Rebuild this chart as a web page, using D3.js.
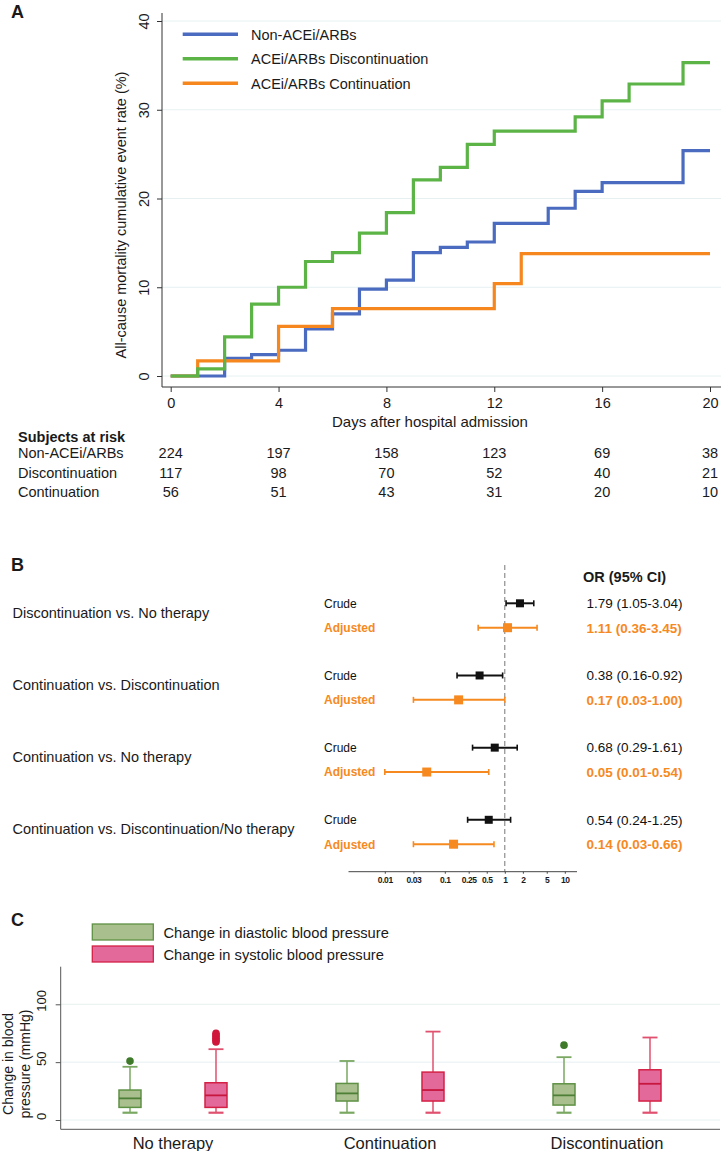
<!DOCTYPE html>
<html><head><meta charset="utf-8">
<script src="https://cdn.jsdelivr.net/npm/d3@7"></script>
<style>body{margin:0;background:#fff}svg{display:block}</style>
</head><body><svg id="c" width="721" height="1151"></svg>
<script>
// ---------- Panel A data ----------
const kmSeries = ["Non-ACEi/ARBs","ACEi/ARBs Discontinuation","ACEi/ARBs Continuation"];
const nonAceiDays = [0,2,3,4,5,6,7,8,9,10,11,12,14,15,16,19,20];
const nonAceiRate = [0,2.0,2.4,2.9,5.3,7.0,9.8,10.8,13.9,14.5,15.1,17.2,18.9,20.8,21.8,25.4,25.4];
const discDays = [0,1,2,3,4,5,6,7,8,9,10,11,12,15,16,17,19,20];
const discRate = [0,0.8,4.4,8.1,10.0,12.9,13.9,16.1,18.4,22.1,23.5,26.1,27.6,29.2,31.0,32.9,35.3,35.3];
const contDays = [0,1,4,6,12,13,20];
const contRate = [0,1.7,5.6,7.6,10.4,13.8,13.8];
const kmXTicks = [0,4,8,12,16,20];
const kmYTicks = [0,10,20,30,40];
const riskDays = [0,4,8,12,16,20];
const riskLabels = ["Non-ACEi/ARBs","Discontinuation","Continuation"];
const riskNon = [224,197,158,123,69,38];
const riskDisc = [117,98,70,52,40,21];
const riskCont = [56,51,43,31,20,10];

// ---------- Panel B data ----------
const comparisons = ["Discontinuation vs. No therapy","Continuation vs. Discontinuation","Continuation vs. No therapy","Continuation vs. Discontinuation/No therapy"];
const crudeOR = [1.79,0.38,0.68,0.54];
const crudeLo = [1.05,0.16,0.29,0.24];
const crudeHi = [3.04,0.92,1.61,1.25];
const adjOR = [1.11,0.17,0.05,0.14];
const adjLo = [0.36,0.03,0.01,0.03];
const adjHi = [3.45,1.00,0.54,0.66];
const orTicks = [0.01,0.03,0.1,0.25,0.5,1,2,5,10];

// ---------- Panel C data ----------
const bpGroups = ["No therapy","Continuation","Discontinuation"];
const bpSeries = ["Change in diastolic blood pressure","Change in systolic blood pressure"];
const diaLow = [6.3,6.3,6.3];
const diaQ1 = [10.9,16.4,12.9];
const diaMed = [18.7,23.0,21.3];
const diaQ3 = [25.9,31.6,31.3];
const diaHigh = [46.0,51.0,54.3];
const diaOut = [[50.9],[],[64.7]];
const sysLow = [6.3,6.3,6.3];
const sysQ1 = [10.9,16.4,16.4];
const sysMed = [21.3,25.9,31.3];
const sysQ3 = [32.2,41.4,43.4];
const sysHigh = [61.2,76.4,71.3];
const sysOut = [[67.5,69,70.5,72,73.5,75],[],[]];
const bpYTicks = [0,50,100];

// ---------- styles ----------
const font = "'Liberation Sans', Arial, Helvetica, sans-serif";
const ink = "#1a1a1a";
const kmColors = ["#4a6bbf","#5cb447","#f6871f"];
const orange = "#f6891f";
const svg = d3.select("#c").attr("font-family", font);
svg.append("rect").attr("width",721).attr("height",1151).attr("fill","#fff");

function label(t,x,y,opt={}){
  const s = svg.append("text").attr("x",x).attr("y",y).text(t)
    .attr("font-size",opt.size||14.5).attr("fill",opt.fill||ink);
  if(opt.bold) s.attr("font-weight","bold");
  if(opt.anchor) s.attr("text-anchor",opt.anchor);
  return s;
}
label("A",11,18,{size:18,bold:true});
label("B",11,571,{size:18,bold:true});
label("C",11,926,{size:18,bold:true});

// ================= Panel A =================
const xA = d3.scaleLinear().domain([0,20]).range([170.7,710]);
const yA = d3.scaleLinear().domain([0,40]).range([376,21]);
const axLeftA = 162, axBotA = 387;

svg.append("g").selectAll("line").data(kmYTicks).join("line")
  .attr("x1",axLeftA).attr("x2",721).attr("y1",d=>yA(d)).attr("y2",d=>yA(d))
  .attr("stroke","#e6f0f1").attr("stroke-width",1);

const gyA = svg.append("g").attr("transform",`translate(${axLeftA},0)`)
  .call(d3.axisLeft(yA).tickValues(kmYTicks).tickSize(5).tickSizeOuter(0));
gyA.attr("font-family",font).attr("font-size",14.5);
gyA.select(".domain").remove();
gyA.selectAll(".tick line").attr("stroke","#333");
gyA.append("line").attr("y1",13).attr("y2",axBotA).attr("stroke","#333");
gyA.selectAll(".tick text").attr("x",null).attr("dy",null).attr("fill",ink)
  .attr("text-anchor","middle").attr("transform","translate(-13,0) rotate(-90)");

const gxA = svg.append("g").attr("transform",`translate(0,${axBotA})`)
  .call(d3.axisBottom(xA).tickValues(kmXTicks).tickSize(5).tickPadding(6).tickSizeOuter(0));
gxA.attr("font-family",font).attr("font-size",14.5);
gxA.select(".domain").remove();
gxA.selectAll(".tick line").attr("stroke","#333");
gxA.selectAll(".tick text").attr("fill",ink);
gxA.append("line").attr("x1",axLeftA).attr("x2",721).attr("stroke","#333");

svg.append("text").attr("transform","translate(125.5,215) rotate(-90)")
  .attr("text-anchor","middle").attr("font-size",14.5).attr("fill",ink)
  .text("All-cause mortality cumulative event rate (%)");
label("Days after hospital admission",430,426.5,{anchor:"middle",size:15});

const kmData = [
  nonAceiDays.map((d,i)=>[d,nonAceiRate[i]]),
  discDays.map((d,i)=>[d,discRate[i]]),
  contDays.map((d,i)=>[d,contRate[i]])
];
const stepLine = d3.line().x(d=>xA(d[0])).y(d=>yA(d[1])).curve(d3.curveStepAfter);
[0,2,1].forEach(i=>{
  svg.append("path").attr("d",stepLine(kmData[i])).attr("fill","none")
    .attr("stroke",kmColors[i]).attr("stroke-width",3.2).attr("stroke-linejoin","miter");
});

// legend
const legY = d3.scalePoint().domain(kmSeries).range([34.3,83.3]);
kmSeries.forEach((s,i)=>{
  svg.append("line").attr("x1",182.7).attr("x2",238).attr("y1",legY(s)).attr("y2",legY(s))
    .attr("stroke",kmColors[i]).attr("stroke-width",3.5);
  label(s,251,legY(s)+5.2,{size:14.5});
});

// risk table
label("Subjects at risk",18,441.8,{bold:true,size:14.5});
const riskRows = [riskNon,riskDisc,riskCont];
const riskY = d3.scalePoint().domain(riskLabels).range([453.3,491.7]);
riskLabels.forEach((r,i)=>{
  label(r,18,riskY(r)+5.1,{size:14.5});
  riskRows[i].forEach((v,j)=>label(String(v),xA(riskDays[j]),riskY(r)+5.1,{size:14.5,anchor:"middle"}));
});

// ================= Panel B =================
const xB = d3.scaleLog().domain([0.01,10]).range([384.8,564.8]);
const rowB = d3.scalePoint().domain(comparisons).range([615.5,832]);
const axBotB = 871.7;
label("OR (95% CI)",583,581.5,{bold:true,size:14.5});

svg.append("line").attr("x1",xB(1)).attr("x2",xB(1)).attr("y1",565).attr("y2",axBotB)
  .attr("stroke","#777").attr("stroke-width",1).attr("stroke-dasharray","5,3");

const gxB = svg.append("g").attr("transform",`translate(0,${axBotB})`)
  .call(d3.axisBottom(xB).tickValues(orTicks).tickFormat(d=>String(d)).tickSize(2).tickPadding(3));
gxB.attr("font-family",font).attr("font-size",8.5);
gxB.select(".domain").remove();
gxB.selectAll(".tick line").attr("stroke","#444");
gxB.selectAll(".tick text").attr("fill",ink).attr("font-weight","bold").attr("letter-spacing","-0.4");
gxB.append("line").attr("x1",348.5).attr("x2",577).attr("stroke","#444");

comparisons.forEach((c,i)=>{
  const yc = rowB(c);
  label(c,12.5,yc-3+5,{size:14.5});
  const rows = [
    {y:yc-12.2, or:crudeOR[i], lo:crudeLo[i], hi:crudeHi[i], col:"#111", name:"Crude", bold:false, sq:8},
    {y:yc+12.2, or:adjOR[i], lo:adjLo[i], hi:adjHi[i], col:orange, name:"Adjusted", bold:true, sq:9}
  ];
  rows.forEach(r=>{
    label(r.name,324,r.y+4.3,{size:12,bold:r.bold,fill:r.col});
    svg.append("line").attr("x1",xB(r.lo)).attr("x2",xB(r.hi)).attr("y1",r.y).attr("y2",r.y)
      .attr("stroke",r.col).attr("stroke-width",2);
    [r.lo,r.hi].forEach(v=>svg.append("line").attr("x1",xB(v)).attr("x2",xB(v))
      .attr("y1",r.y-3).attr("y2",r.y+3).attr("stroke",r.col).attr("stroke-width",1.6));
    svg.append("rect").attr("x",xB(r.or)-r.sq/2).attr("y",r.y-r.sq/2)
      .attr("width",r.sq).attr("height",r.sq).attr("fill",r.col);
    const f = d3.format(".2f");
    label(`${f(r.or)} (${f(r.lo)}-${f(r.hi)})`,586.5,r.y+4.8,{size:13.5,bold:r.bold,fill:r.col});
  });
});

// ================= Panel C =================
const yC = d3.scaleLinear().domain([0,100]).range([1120,1004.3]);
const xC = d3.scalePoint().domain(bpGroups).range([173,607]);
const offC = d3.scalePoint().domain(bpSeries).range([-43,43]);
const axLeftC = 60.7, axBotC = 1129.3;

svg.append("g").selectAll("line").data(bpYTicks).join("line")
  .attr("x1",axLeftC).attr("x2",720).attr("y1",d=>yC(d)).attr("y2",d=>yC(d))
  .attr("stroke","#e6f0f1");

const gyC = svg.append("g").attr("transform",`translate(${axLeftC},0)`)
  .call(d3.axisLeft(yC).tickValues(bpYTicks).tickSize(5).tickSizeOuter(0));
gyC.attr("font-family",font).attr("font-size",13);
gyC.select(".domain").remove();
gyC.selectAll(".tick line").attr("stroke","#555");
gyC.append("line").attr("y1",966.7).attr("y2",axBotC).attr("stroke","#555");
gyC.selectAll(".tick text").attr("x",null).attr("dy",null).attr("fill",ink)
  .attr("text-anchor","middle").attr("transform","translate(-15,-4) rotate(-90)");

svg.append("line").attr("x1",axLeftC).attr("x2",720).attr("y1",axBotC).attr("y2",axBotC).attr("stroke","#555");
bpGroups.forEach(g=>label(g,xC(g),1149,{size:16.5,anchor:"middle"}));

const yTitle = svg.append("g").attr("transform","translate(0,1064)");
yTitle.append("text").attr("transform","translate(12.5,0) rotate(-90)").attr("text-anchor","middle")
  .attr("font-size",14).attr("fill",ink).text("Change in blood");
yTitle.append("text").attr("transform","translate(29.5,0) rotate(-90)").attr("text-anchor","middle")
  .attr("font-size",14).attr("fill",ink).text("pressure (mmHg)");

const bpStyle = [
  {fill:"#a9c08e", stroke:"#5f9145", med:"#4d7f37", whisk:"#7aa862", out:"#3e7a2a"},
  {fill:"#e3699b", stroke:"#d42045", med:"#c8173f", whisk:"#e0506f", out:"#d0163b"}
];
const bpStats = [
  {low:diaLow,q1:diaQ1,med:diaMed,q3:diaQ3,high:diaHigh,out:diaOut},
  {low:sysLow,q1:sysQ1,med:sysMed,q3:sysQ3,high:sysHigh,out:sysOut}
];
const bw = 22, cap = 15;
bpSeries.forEach((s,si)=>{
  const st = bpStyle[si], d = bpStats[si];
  bpGroups.forEach((g,gi)=>{
    const cx = xC(g)+offC(s);
    const gg = svg.append("g");
    gg.append("line").attr("x1",cx).attr("x2",cx).attr("y1",yC(d.q3[gi])).attr("y2",yC(d.high[gi])).attr("stroke",st.whisk).attr("stroke-width",1.5);
    gg.append("line").attr("x1",cx).attr("x2",cx).attr("y1",yC(d.q1[gi])).attr("y2",yC(d.low[gi])).attr("stroke",st.whisk).attr("stroke-width",1.5);
    gg.append("line").attr("x1",cx-cap/2).attr("x2",cx+cap/2).attr("y1",yC(d.high[gi])).attr("y2",yC(d.high[gi])).attr("stroke",st.whisk).attr("stroke-width",1.8);
    gg.append("line").attr("x1",cx-cap/2).attr("x2",cx+cap/2).attr("y1",yC(d.low[gi])).attr("y2",yC(d.low[gi])).attr("stroke",st.whisk).attr("stroke-width",2.2);
    gg.append("rect").attr("x",cx-bw/2).attr("width",bw).attr("y",yC(d.q3[gi])).attr("height",yC(d.q1[gi])-yC(d.q3[gi]))
      .attr("fill",st.fill).attr("stroke",st.stroke).attr("stroke-width",1.5);
    gg.append("line").attr("x1",cx-bw/2).attr("x2",cx+bw/2).attr("y1",yC(d.med[gi])).attr("y2",yC(d.med[gi])).attr("stroke",st.med).attr("stroke-width",1.8);
    gg.selectAll("circle").data(d.out[gi]).join("circle").attr("cx",cx).attr("cy",v=>yC(v)).attr("r",3.8).attr("fill",st.out);
  });
});
// legend C
const legC = d3.scalePoint().domain(bpSeries).range([932,954]);
bpSeries.forEach((s,i)=>{
  svg.append("rect").attr("x",92.3).attr("y",legC(s)-8).attr("width",61).attr("height",16)
    .attr("fill",bpStyle[i].fill).attr("stroke",bpStyle[i].stroke).attr("stroke-width",1.3);
  label(s,163.5,legC(s)+5.5,{size:14.7});
});
</script></body></html>
